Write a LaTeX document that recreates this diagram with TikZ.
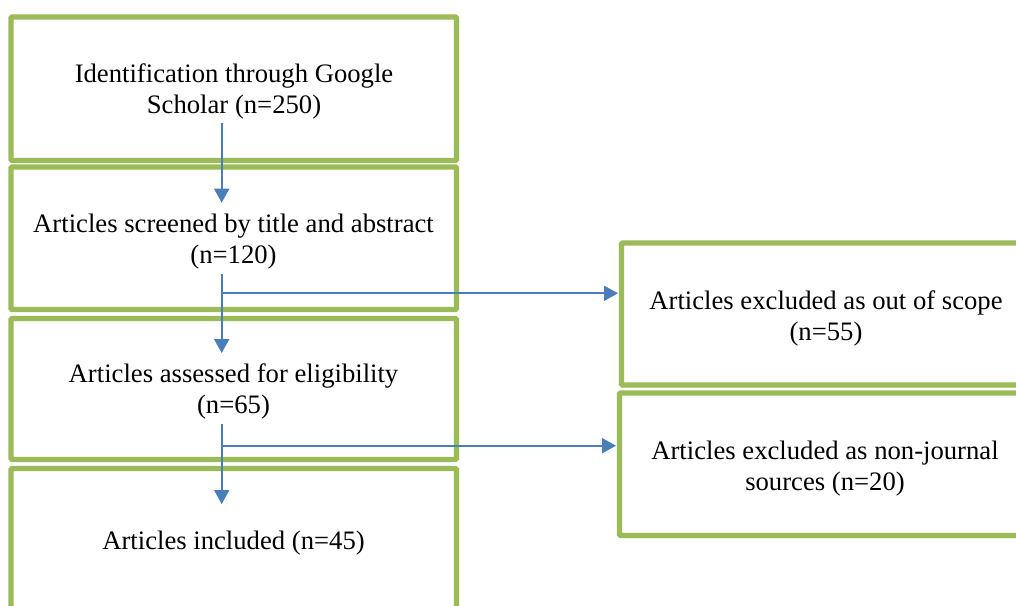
\documentclass[tikz,border=0pt]{standalone}
\usepackage{fontspec}
\setmainfont{Liberation Serif}
\usetikzlibrary{arrows.meta,fit}
\definecolor{boxgreen}{RGB}{155,187,89}
\definecolor{arrowblue}{RGB}{74,126,187}
\begin{document}
\begin{tikzpicture}[x=0.75pt,y=-0.75pt,
  box/.style={draw=boxgreen,line width=4.1pt,rounded corners=1pt,inner sep=0pt,outer sep=0pt},
  lbl/.style={font=\fontsize{20}{23.25}\selectfont,align=center,anchor=base,inner sep=0pt},
  flow/.style={draw=arrowblue,line width=1.5pt,-{Triangle[length=10.5pt,width=11.25pt]}},
  side/.style={draw=arrowblue,line width=1.3pt,-{Triangle[length=10.5pt,width=11.25pt]},shorten >=2.6pt}]
\useasboundingbox (0,0) rectangle (1016,606);
\clip (0,0) rectangle (1016,606);
% boxes
\node[box,fit={(11,17) (456.5,160.5)}] (b1) {};
\node[box,fit={(11,167) (456.5,309.5)}] (b2) {};
\node[box,fit={(11,318.5) (456.5,459.5)}] (b3) {};
\node[box,fit={(11,468.5) (456.5,614)}] (b4) {};
\node[box,fit={(621.5,243) (1031,385)}] (r1) {};
\node[box,fit={(619.5,393) (1031,535.5)}] (r2) {};
% texts (base anchor = baseline of last line)
\node[lbl] (t1) at (234,113.3) {Identification through Google\\Scholar (n=250)};
\node[lbl] (t2) at (233.5,263.5) {Articles screened by title and abstract\\(n=120)};
\node[lbl] (t3) at (233.5,413.5) {Articles assessed for eligibility\\(n=65)};
\node[lbl] (t4) at (233.5,549) {Articles included (n=45)};
\node[lbl] (t5) at (826,340) {Articles excluded as out of scope\\(n=55)};
\node[lbl] (t6) at (825,490) {Articles excluded as non-journal\\sources (n=20)};
% connectors
\coordinate (s1) at (221.7,122.7);
\coordinate (e1) at (221.7,202.7);
\coordinate (s2) at (221.7,274);
\coordinate (e2) at (221.7,353);
\coordinate (s3) at (221.7,424);
\coordinate (e3) at (221.7,504);
\coordinate (h1) at (221.7,293.3);
\coordinate (h2) at (221.7,445.7);
\draw[flow] (s1) -- (e1);
\draw[flow] (s2) -- (e2);
\draw[flow] (s3) -- (e3);
\draw[side] (h1) -- (h1 -| r1.west);
\draw[side] (h2) -- (h2 -| r2.west);
\end{tikzpicture}
\end{document}
